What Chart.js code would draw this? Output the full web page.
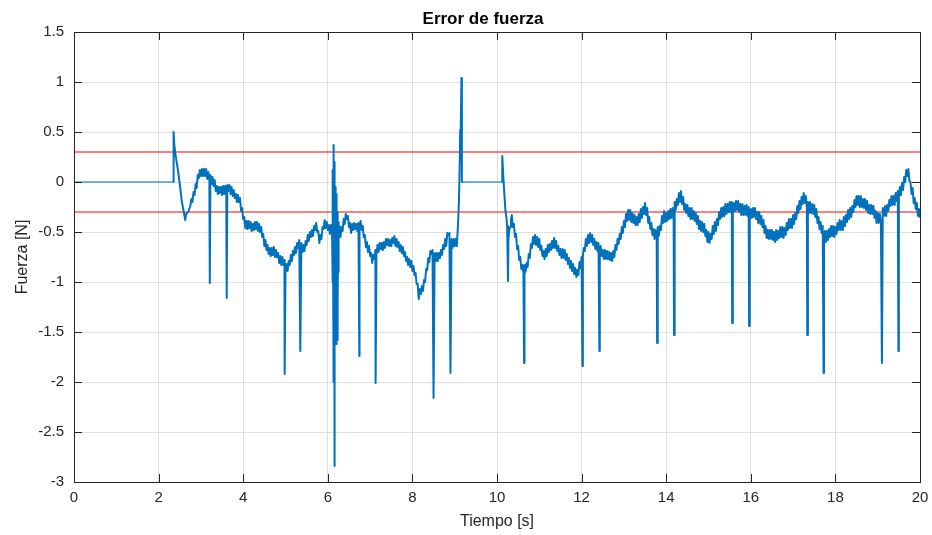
<!DOCTYPE html>
<html>
<head>
<meta charset="utf-8">
<script src="https://cdn.jsdelivr.net/npm/chart.js@4.4.1/dist/chart.umd.min.js"></script>
<style>
  html, body { margin: 0; padding: 0; background: #fff; }
  #wrap { width: 932px; height: 535px; }
</style>
</head>
<body>
<div id="wrap"><canvas id="myChart" width="932" height="535"></canvas></div>
<script>
// tiempo [s] y error de fuerza [N]
const tiempo = [
  0, 2.35, 2.355, 2.37, 2.40, 2.45, 2.50, 2.55, 2.60, 2.63, 2.65, 2.70, 2.75,
  2.775, 2.80, 2.825, 2.85, 2.875, 2.90, 2.925, 2.95, 2.975, 3.00, 3.025, 3.05, 3.075, 3.10, 3.125, 3.15, 3.175, 3.20, 3.21,
  3.225, 3.25, 3.275, 3.30, 3.325, 3.35, 3.375, 3.40, 3.425, 3.45, 3.475, 3.50, 3.525, 3.55, 3.575, 3.60, 3.61,
  3.625, 3.65, 3.675, 3.70, 3.725, 3.75, 3.775, 3.80, 3.825, 3.85, 3.875, 3.90, 3.925, 3.95, 3.975, 4.00,
  4.025, 4.05, 4.075, 4.10, 4.125, 4.15, 4.175, 4.20, 4.225, 4.25, 4.275, 4.30, 4.325, 4.35, 4.375, 4.40,
  4.425, 4.45, 4.475, 4.50, 4.525, 4.55, 4.575, 4.60, 4.625, 4.65, 4.675, 4.70, 4.725, 4.75, 4.775, 4.80,
  4.825, 4.85, 4.875, 4.90, 4.925, 4.95, 4.975, 4.98, 5.00, 5.025, 5.05, 5.075, 5.10, 5.125, 5.15, 5.175, 5.20,
  5.225, 5.25, 5.275, 5.30, 5.325, 5.35, 5.375, 5.40, 5.425, 5.45, 5.475, 5.50, 5.525, 5.55, 5.575, 5.60,
  5.625, 5.65, 5.675, 5.70, 5.725, 5.75, 5.775, 5.80, 5.825, 5.85, 5.875, 5.90, 5.925, 5.95, 5.975, 6.00, 6.025, 6.05, 6.075, 6.10,
  6.11, 6.115, 6.12, 6.125, 6.13, 6.135, 6.14, 6.145, 6.15, 6.152, 6.155, 6.16, 6.165, 6.17, 6.175, 6.18,
  6.185, 6.19, 6.195, 6.20, 6.205, 6.21, 6.215, 6.22, 6.225, 6.23, 6.235, 6.24, 6.245, 6.25, 6.26,
  6.275, 6.30, 6.325, 6.35, 6.375, 6.40, 6.425, 6.45, 6.475, 6.50, 6.525, 6.55, 6.575, 6.60, 6.625, 6.65, 6.675, 6.70, 6.725, 6.745,
  6.75, 6.775, 6.80, 6.825, 6.85, 6.875, 6.90, 6.925, 6.95, 6.975, 7.00, 7.025, 7.05, 7.075, 7.10, 7.125, 7.13,
  7.15, 7.175, 7.20, 7.225, 7.25, 7.275, 7.30, 7.325, 7.35, 7.375, 7.40, 7.425, 7.45, 7.475, 7.50, 7.525, 7.55,
  7.575, 7.60, 7.625, 7.65, 7.675, 7.70, 7.725, 7.75, 7.775, 7.80, 7.825, 7.85, 7.875, 7.90, 7.925, 7.95, 7.975, 8.00,
  8.025, 8.05, 8.075, 8.10, 8.125, 8.15, 8.175, 8.20, 8.225, 8.25, 8.275, 8.30, 8.325, 8.35, 8.375, 8.40, 8.425, 8.45, 8.475, 8.50,
  8.525, 8.55, 8.575, 8.60, 8.625, 8.65, 8.675, 8.70, 8.725, 8.75, 8.775, 8.80, 8.825, 8.85, 8.875, 8.90,
  8.925, 8.95, 8.975, 9.00, 9.025, 9.05, 9.075, 9.10, 9.12, 9.13, 9.14, 9.16, 9.17, 10.12,
  10.125, 10.15, 10.175, 10.20, 10.225, 10.24, 10.26, 10.27, 10.29, 10.31, 10.33, 10.35,
  10.375, 10.40, 10.425, 10.45, 10.475, 10.50, 10.525, 10.55, 10.575, 10.60, 10.625, 10.64, 10.65, 10.675, 10.70, 10.725, 10.75,
  10.775, 10.80, 10.825, 10.85, 10.875, 10.90, 10.925, 10.95, 10.975, 11.00, 11.025, 11.05, 11.075, 11.10, 11.125, 11.15,
  11.175, 11.20, 11.225, 11.25, 11.275, 11.30, 11.325, 11.35, 11.375, 11.40, 11.425, 11.45, 11.475, 11.50, 11.525, 11.55,
  11.575, 11.60, 11.625, 11.65, 11.675, 11.70, 11.725, 11.75, 11.775, 11.80, 11.825, 11.85, 11.875, 11.90, 11.925, 11.95, 11.975, 12.00, 12.02,
  12.03, 12.05, 12.075, 12.10, 12.125, 12.15, 12.175, 12.20, 12.225, 12.25, 12.275, 12.30, 12.325, 12.35, 12.375, 12.40, 12.42,
  12.43, 12.45, 12.475, 12.50, 12.525, 12.55, 12.575, 12.60, 12.625, 12.65, 12.675, 12.70, 12.725, 12.75, 12.775, 12.80,
  12.825, 12.85, 12.875, 12.90, 12.925, 12.95, 12.975, 13.00, 13.025, 13.05, 13.075, 13.10, 13.125, 13.15, 13.175, 13.20,
  13.225, 13.25, 13.275, 13.30, 13.325, 13.35, 13.375, 13.40, 13.425, 13.45, 13.475, 13.50, 13.525, 13.55, 13.575, 13.60,
  13.625, 13.65, 13.675, 13.70, 13.725, 13.75, 13.775, 13.785, 13.80, 13.825, 13.85, 13.875, 13.90, 13.925, 13.95, 13.975, 14.00,
  14.025, 14.05, 14.075, 14.10, 14.125, 14.15, 14.175, 14.185, 14.20, 14.225, 14.25, 14.275, 14.30, 14.325, 14.35, 14.375, 14.40,
  14.425, 14.45, 14.475, 14.50, 14.525, 14.55, 14.575, 14.60, 14.625, 14.65, 14.675, 14.70, 14.725, 14.75, 14.775, 14.80,
  14.825, 14.85, 14.875, 14.90, 14.925, 14.95, 14.975, 15.00, 15.025, 15.05, 15.075, 15.10, 15.125, 15.15, 15.175, 15.20,
  15.225, 15.25, 15.275, 15.30, 15.325, 15.35, 15.375, 15.40, 15.425, 15.45, 15.475, 15.50, 15.525, 15.55, 15.56, 15.575, 15.60,
  15.625, 15.65, 15.675, 15.70, 15.725, 15.75, 15.775, 15.80, 15.825, 15.85, 15.875, 15.90, 15.925, 15.95, 15.96, 15.975, 16.00,
  16.025, 16.05, 16.075, 16.10, 16.125, 16.15, 16.175, 16.20, 16.225, 16.25, 16.275, 16.30, 16.325, 16.35, 16.375, 16.40,
  16.425, 16.45, 16.475, 16.50, 16.525, 16.55, 16.575, 16.60, 16.625, 16.65, 16.675, 16.70, 16.725, 16.75, 16.775, 16.80,
  16.825, 16.85, 16.875, 16.90, 16.925, 16.95, 16.975, 17.00, 17.025, 17.05, 17.075, 17.10, 17.125, 17.15, 17.175, 17.20,
  17.225, 17.25, 17.275, 17.30, 17.325, 17.335, 17.35, 17.375, 17.40, 17.425, 17.45, 17.475, 17.50, 17.525, 17.55, 17.575, 17.60,
  17.625, 17.65, 17.675, 17.70, 17.72, 17.73, 17.75, 17.775, 17.80, 17.825, 17.85, 17.875, 17.90, 17.925, 17.95, 17.975, 18.00,
  18.025, 18.05, 18.075, 18.10, 18.125, 18.15, 18.175, 18.20, 18.225, 18.25, 18.275, 18.30, 18.325, 18.35, 18.375, 18.40,
  18.425, 18.45, 18.475, 18.50, 18.525, 18.55, 18.575, 18.60, 18.625, 18.65, 18.675, 18.70, 18.725, 18.75, 18.775, 18.80,
  18.825, 18.85, 18.875, 18.90, 18.925, 18.95, 18.975, 19.00, 19.025, 19.05, 19.075, 19.10, 19.12, 19.15, 19.175, 19.20,
  19.225, 19.25, 19.275, 19.30, 19.325, 19.35, 19.375, 19.40, 19.425, 19.45, 19.475, 19.49, 19.50, 19.525, 19.55, 19.575, 19.60,
  19.625, 19.65, 19.675, 19.70, 19.725, 19.75, 19.775, 19.80, 19.825, 19.85, 19.875, 19.90, 19.925, 19.95, 19.975, 20.00
];
const fuerza = [
  0, 0, 0.50, 0.38, 0.27, 0.14, -0.02, -0.20, -0.31, -0.38, -0.32, -0.30, -0.24,
  -0.17, -0.20, -0.10, -0.13, -0.02, -0.06, 0.07, 0.04, 0.12, 0.06, 0.13, 0.06, 0.13, 0.06, 0.13, 0.03, 0.10, 0.02, -1.01,
  0.07, -0.02, 0.05, -0.04, 0.02, -0.09, -0.04, -0.12, -0.05, -0.11, -0.05, -0.13, -0.04, -0.12, -0.04, -0.10, -1.16,
  -0.03, -0.09, -0.03, -0.12, -0.05, -0.14, -0.08, -0.16, -0.12, -0.20, -0.13, -0.20, -0.16, -0.29, -0.26, -0.37,
  -0.35, -0.46, -0.39, -0.47, -0.39, -0.46, -0.40, -0.49, -0.42, -0.48, -0.40, -0.47, -0.40, -0.49, -0.42, -0.50,
  -0.45, -0.55, -0.52, -0.64, -0.58, -0.68, -0.63, -0.72, -0.66, -0.74, -0.66, -0.73, -0.65, -0.75, -0.68, -0.75,
  -0.71, -0.81, -0.74, -0.83, -0.75, -0.83, -0.78, -1.92, -0.87, -0.82, -0.89, -0.79, -0.83, -0.73, -0.79, -0.69, -0.73,
  -0.65, -0.71, -0.61, -0.66, -0.58, -1.69, -0.61, -0.70, -0.63, -0.69, -0.59, -0.63, -0.53, -0.59, -0.50, -0.55,
  -0.48, -0.54, -0.44, -0.48, -0.41, -0.50, -0.49, -0.61, -0.53, -0.57, -0.45, -0.47, -0.38, -0.46, -0.40, -0.48, -0.43, -0.52, -0.43, -0.49,
  0.10, -1.00, 0.12, -0.80, 0.30, -1.30, 0.37, -2.00, 0.20, -2.84, 0.10, -2.10, 0.05, -1.60, -0.05, -1.62,
  -0.10, -1.60, -0.12, -1.58, -0.18, -1.62, -0.25, -1.58, -0.30, -1.55, -0.38, -1.20, -0.40, -0.90, -0.45,
  -0.44, -0.55, -0.45, -0.49, -0.37, -0.42, -0.32, -0.37, -0.34, -0.45, -0.41, -0.51, -0.42, -0.48, -0.41, -0.47, -0.42, -0.49, -0.41, -1.74,
  -0.47, -0.39, -0.48, -0.44, -0.55, -0.53, -0.65, -0.60, -0.70, -0.64, -0.74, -0.71, -0.81, -0.73, -0.77, -0.68, -2.01,
  -0.73, -0.63, -0.70, -0.61, -0.67, -0.61, -0.68, -0.60, -0.66, -0.57, -0.63, -0.57, -0.64, -0.58, -0.64, -0.56, -0.61,
  -0.54, -0.64, -0.57, -0.65, -0.60, -0.69, -0.63, -0.71, -0.65, -0.74, -0.70, -0.79, -0.75, -0.83, -0.77, -0.85, -0.79, -0.89,
  -0.84, -0.93, -0.91, -1.02, -1.02, -1.17, -1.07, -1.12, -1.04, -1.09, -0.98, -1.00, -0.87, -0.88, -0.76, -0.80, -0.69, -0.72, -0.68, -2.16,
  -0.71, -0.79, -0.71, -0.79, -0.71, -0.76, -0.68, -0.73, -0.63, -0.67, -0.57, -0.64, -0.51, -0.53, -0.51, -1.91,
  -0.57, -0.66, -0.57, -0.64, -0.57, -0.64, -0.45, -0.20, 0.22, 0.52, 0.45, 1.04, 0, 0,
  0.26, 0.05, -0.13, -0.29, -0.36, -0.44, -0.99, -0.58, -0.48, -0.45, -0.38, -0.33,
  -0.45, -0.42, -0.55, -0.52, -0.67, -0.64, -0.78, -0.75, -0.87, -0.83, -0.91, -1.81, -0.83, -0.90, -0.81, -0.85, -0.72,
  -0.76, -0.62, -0.66, -0.55, -0.62, -0.53, -0.63, -0.55, -0.65, -0.57, -0.68, -0.64, -0.74, -0.69, -0.77, -0.67,
  -0.74, -0.63, -0.70, -0.62, -0.68, -0.59, -0.66, -0.56, -0.66, -0.59, -0.69, -0.64, -0.73, -0.67, -0.76, -0.67,
  -0.76, -0.68, -0.78, -0.72, -0.82, -0.76, -0.86, -0.79, -0.89, -0.82, -0.92, -0.86, -0.95, -0.88, -0.93, -0.80, -0.86, -0.75, -1.84,
  -0.74, -0.66, -0.69, -0.57, -0.64, -0.53, -0.61, -0.51, -0.60, -0.53, -0.63, -0.57, -0.67, -0.60, -0.69, -0.61, -1.69,
  -0.70, -0.64, -0.74, -0.68, -0.77, -0.68, -0.77, -0.69, -0.77, -0.70, -0.78, -0.71, -0.79, -0.69, -0.75, -0.63,
  -0.68, -0.57, -0.62, -0.52, -0.57, -0.45, -0.51, -0.39, -0.45, -0.32, -0.39, -0.28, -0.38, -0.28, -0.40, -0.31,
  -0.41, -0.33, -0.43, -0.35, -0.43, -0.32, -0.40, -0.27, -0.36, -0.25, -0.32, -0.21, -0.33, -0.26, -0.41, -0.35,
  -0.47, -0.41, -0.53, -0.47, -0.57, -0.48, -0.57, -1.61, -0.45, -0.54, -0.44, -0.48, -0.34, -0.41, -0.29, -0.40, -0.31,
  -0.39, -0.29, -0.37, -0.27, -0.36, -0.26, -0.34, -1.53, -0.20, -0.28, -0.17, -0.23, -0.11, -0.20, -0.09, -0.22, -0.15,
  -0.28, -0.22, -0.31, -0.23, -0.34, -0.26, -0.37, -0.26, -0.37, -0.29, -0.39, -0.31, -0.42, -0.34, -0.47, -0.39,
  -0.49, -0.40, -0.50, -0.42, -0.54, -0.48, -0.60, -0.50, -0.61, -0.52, -0.57, -0.44, -0.52, -0.40, -0.49, -0.37,
  -0.43, -0.30, -0.37, -0.26, -0.35, -0.25, -0.34, -0.22, -0.32, -0.22, -0.30, -0.20, -0.30, -0.20, -1.41, -0.31, -0.21,
  -0.29, -0.19, -0.28, -0.19, -0.30, -0.22, -0.33, -0.22, -0.33, -0.24, -0.33, -0.23, -0.34, -0.25, -1.44, -0.36, -0.27,
  -0.36, -0.26, -0.35, -0.26, -0.37, -0.30, -0.41, -0.30, -0.42, -0.34, -0.45, -0.38, -0.51, -0.44, -0.56, -0.48,
  -0.57, -0.48, -0.57, -0.48, -0.58, -0.50, -0.60, -0.48, -0.58, -0.49, -0.56, -0.45, -0.55, -0.45, -0.56, -0.46,
  -0.53, -0.41, -0.48, -0.37, -0.46, -0.37, -0.46, -0.33, -0.42, -0.31, -0.37, -0.24, -0.31, -0.19, -0.27, -0.15,
  -0.22, -0.11, -0.21, -0.14, -0.26, -1.53, -0.20, -0.31, -0.20, -0.31, -0.22, -0.32, -0.23, -0.35, -0.27, -0.41, -0.35,
  -0.47, -0.40, -0.51, -0.44, -1.91, -0.56, -0.49, -0.60, -0.49, -0.58, -0.47, -0.55, -0.44, -0.54, -0.44, -0.55, -0.45,
  -0.52, -0.41, -0.48, -0.38, -0.48, -0.39, -0.48, -0.35, -0.44, -0.33, -0.40, -0.28, -0.37, -0.26, -0.35, -0.24,
  -0.30, -0.18, -0.25, -0.14, -0.23, -0.14, -0.25, -0.14, -0.25, -0.17, -0.26, -0.17, -0.28, -0.19, -0.31, -0.23,
  -0.32, -0.23, -0.32, -0.24, -0.36, -0.29, -0.41, -0.31, -0.41, -0.32, -0.39, -1.81, -0.26, -0.34, -0.24, -0.34,
  -0.23, -0.29, -0.18, -0.24, -0.14, -0.23, -0.14, -0.23, -0.11, -0.19, -0.09, -1.69, -0.16, -0.05, -0.13, -0.01, -0.08,
  0.05, 0.00, 0.12, 0.06, 0.13, 0.01, 0.00, -0.12, -0.06, -0.21, -0.16, -0.27, -0.21, -0.34, -0.27, -0.36
];
// limites de tolerancia
const limiteSup = 0.3;
const limiteInf = -0.3;
const xTicks = [0, 2, 4, 6, 8, 10, 12, 14, 16, 18, 20];
const yTicks = [-3, -2.5, -2, -1.5, -1, -0.5, 0, 0.5, 1, 1.5];

const ejeColor = '#262626';
const fuente = '"Liberation Sans", Arial, Helvetica, sans-serif';

const puntos = tiempo.map(function (t, i) { return {x: t, y: fuerza[i]}; });

// caja y marcas hacia adentro, como en MATLAB
const cajaPlugin = {
  id: 'caja',
  afterDraw: function (chart) {
    const ctx = chart.ctx;
    const a = chart.chartArea;
    const sx = chart.scales.x, sy = chart.scales.y;
    const L = 8;
    ctx.save();
    ctx.strokeStyle = ejeColor;
    ctx.lineWidth = 1;
    ctx.beginPath();
    xTicks.forEach(function (v) {
      const px = Math.round(sx.getPixelForValue(v)) + 0.5;
      ctx.moveTo(px, a.bottom); ctx.lineTo(px, a.bottom - L);
      ctx.moveTo(px, a.top); ctx.lineTo(px, a.top + L);
    });
    yTicks.forEach(function (v) {
      const py = Math.round(sy.getPixelForValue(v)) + 0.5;
      ctx.moveTo(a.left, py); ctx.lineTo(a.left + L, py);
      ctx.moveTo(a.right, py); ctx.lineTo(a.right - L, py);
    });
    ctx.stroke();
    ctx.strokeRect(Math.round(a.left) + 0.5, Math.round(a.top) + 0.5,
      Math.round(a.right - a.left), Math.round(a.bottom - a.top));
    // titulo
    ctx.fillStyle = '#000';
    ctx.font = 'bold 17px ' + fuente;
    ctx.textAlign = 'center';
    ctx.textBaseline = 'alphabetic';
    ctx.fillText('Error de fuerza', 483, 23.5);
    ctx.restore();
  }
};

new Chart('myChart', {
  type: 'line',
  data: {
    datasets: [{
      data: puntos,
      borderColor: '#0072BD',
      borderWidth: 2,
      borderJoinStyle: 'round',
      pointRadius: 0,
      tension: 0,
      fill: false,
      segment: {
        // tramos planos en cero: linea fina
        borderWidth: function (c) { return (c.p0.parsed.y === 0 && c.p1.parsed.y === 0) ? 1.2 : 2; }
      }
    }, {
      data: [{x: 0, y: limiteSup}, {x: 20, y: limiteSup}],
      borderColor: '#ff0000',
      borderWidth: 1,
      pointRadius: 0
    }, {
      data: [{x: 0, y: limiteInf}, {x: 20, y: limiteInf}],
      borderColor: '#ff0000',
      borderWidth: 1,
      pointRadius: 0
    }]
  },
  options: {
    responsive: false,
    animation: false,
    events: [],
    layout: {padding: {left: 0, right: 12, top: 32, bottom: 0}},
    plugins: {
      legend: {display: false},
      tooltip: {enabled: false},
      title: {display: false}
    },
    scales: {
      x: {
        type: 'linear',
        min: 0, max: 20,
        afterBuildTicks: function (s) { s.ticks = xTicks.map(function (v) { return {value: v}; }); },
        afterFit: function (s) { s.height = 53; s.paddingLeft = 0; s.paddingRight = 0; },
        ticks: {color: ejeColor, font: {family: fuente, size: 15}, padding: 7, maxRotation: 0},
        grid: {color: '#dfdfdf', drawTicks: false},
        border: {display: false},
        title: {display: true, text: 'Tiempo [s]', color: ejeColor,
          font: {family: fuente, size: 16}, padding: {top: 0, bottom: 4}}
      },
      y: {
        min: -3, max: 1.5,
        afterBuildTicks: function (s) { s.ticks = yTicks.map(function (v) { return {value: v}; }); },
        afterFit: function (s) { s.width = 74; s.paddingTop = 0; s.paddingBottom = 0; },
        ticks: {color: ejeColor, font: {family: fuente, size: 15}, padding: 10,
          callback: function (v) { return String(v); }},
        grid: {color: '#dfdfdf', drawTicks: false},
        border: {display: false},
        title: {display: true, text: 'Fuerza [N]', color: ejeColor,
          font: {family: fuente, size: 16}, padding: {top: 13, bottom: 0}}
      }
    }
  },
  plugins: [cajaPlugin]
});
</script>
</body>
</html>
